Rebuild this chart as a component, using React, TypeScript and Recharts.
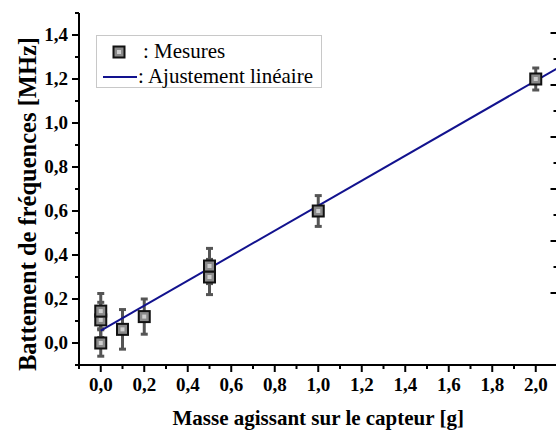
import React from "react";
import {
  ComposedChart,
  Scatter,
  Line,
  XAxis,
  YAxis,
  ErrorBar,
  Legend,
} from "recharts";

// mesures : masse (g), battement (MHz), incertitude (MHz)
const masses = [0, 0, 0, 0.1, 0.2, 0.5, 0.5, 1.0, 2.0];
const beats = [0.0, 0.105, 0.145, 0.062, 0.12, 0.3, 0.35, 0.6, 1.2];
const beatErrors = [0.06, 0.08, 0.08, 0.09, 0.08, 0.08, 0.08, 0.07, 0.05];

// ajustement linéaire (extrémités)
const fitMasses = [0, 2.1];
const fitBeats = [0.056, 1.249];

const xMajorTicks = [0, 0.2, 0.4, 0.6, 0.8, 1.0, 1.2, 1.4, 1.6, 1.8, 2.0];
const xMinorTicks = [-0.1, 0.1, 0.3, 0.5, 0.7, 0.9, 1.1, 1.3, 1.5, 1.7, 1.9, 2.1];
const yMajorTicks = [0, 0.2, 0.4, 0.6, 0.8, 1.0, 1.2, 1.4];
const yMinorTicks = [-0.1, 0.1, 0.3, 0.5, 0.7, 0.9, 1.1, 1.3, 1.5];
const rightMajorTicks = [0, 2, 4, 6, 8, 10];
const rightMinorTicks = [1, 3, 5, 7, 9];

const points = masses.map((x, i) => ({ x, y: beats[i], err: beatErrors[i] }));
const fit = fitMasses.map((x, i) => ({ x, y: fitBeats[i] }));

const sortNum = (a: number, b: number) => a - b;
const isIn = (list: number[], v: number) =>
  list.some((t) => Math.abs(t - v) < 1e-6);
const fmt = (v: number) => v.toFixed(1).replace(".", ",");

const FONT = "'Liberation Serif', 'Times New Roman', serif";
const LINE_COLOR = "#12128e";

function LeftTick({ x, y, payload }: any) {
  const major = isIn(yMajorTicks, payload.value);
  return (
    <g>
      <line x1={x - (major ? 7 : 4)} x2={x} y1={y} y2={y} stroke="#000" strokeWidth={2} />
      {major && (
        <text x={x - 11} y={y + 6} textAnchor="end" fontFamily={FONT} fontWeight="bold" fontSize={19} fill="#000">
          {fmt(payload.value)}
        </text>
      )}
    </g>
  );
}

function BottomTick({ x, y, payload }: any) {
  const major = isIn(xMajorTicks, payload.value);
  return (
    <g>
      <line x1={x} x2={x} y1={y} y2={y + (major ? 7 : 4)} stroke="#000" strokeWidth={2} />
      {major && (
        <text x={x} y={y + 26} textAnchor="middle" fontFamily={FONT} fontWeight="bold" fontSize={19} fill="#000">
          {fmt(payload.value)}
        </text>
      )}
    </g>
  );
}

function TopTick({ x, y }: any) {
  return <line x1={x} x2={x} y1={y} y2={y + 7} stroke="#000" strokeWidth={2} />;
}

function RightTick({ x, y, payload }: any) {
  const major = isIn(rightMajorTicks, payload.value);
  return <line x1={x - (major ? 7 : 4)} x2={x} y1={y} y2={y} stroke="#000" strokeWidth={2} />;
}

function SquareMarker({ cx, cy }: any) {
  if (cx == null || cy == null) return null;
  return (
    <g>
      <rect x={cx - 5.5} y={cy - 5.5} width={11} height={11} fill="#8a8a8a" stroke="#111" strokeWidth={2} />
      <rect x={cx - 2} y={cy - 2} width={4} height={4} fill="#cfcfcf" />
    </g>
  );
}

function LegendBox() {
  return (
    <svg width={226} height={53}>
      <rect x={0.5} y={0.5} width={225} height={52} fill="#fff" stroke="#c8c8c8" />
      <SquareMarker cx={23} cy={17} />
      <text x={47} y={23} fontFamily={FONT} fontSize={21} fill="#000">
        : Mesures
      </text>
      <line x1={7} x2={41} y1={42} y2={42} stroke={LINE_COLOR} strokeWidth={2} />
      <text x={42} y={48} fontFamily={FONT} fontSize={21} fill="#000">
        : Ajustement linéaire
      </text>
    </svg>
  );
}

export default function App() {
  return (
    <div
      style={{
        position: "absolute",
        left: 0,
        top: 0,
        width: 556,
        height: 432,
        overflow: "hidden",
        background: "#fff",
      }}
    >
      <ComposedChart width={600} height={432} margin={{ top: 13, right: 0, bottom: 0, left: 0 }}>
        <XAxis
          xAxisId="bottom"
          dataKey="x"
          type="number"
          domain={[-0.1, 2.1]}
          allowDataOverflow
          ticks={[...xMajorTicks, ...xMinorTicks].sort(sortNum)}
          interval={0}
          tickSize={0}
          tickMargin={0}
          tickLine={false}
          tick={<BottomTick />}
          axisLine={{ stroke: "#000", strokeWidth: 2 }}
          height={67}
          label={{
            content: ({ viewBox }: any) => (
              <text
                x={viewBox.x + viewBox.width / 2}
                y={viewBox.y + 60}
                textAnchor="middle"
                fontFamily={FONT}
                fontWeight="bold"
                fontSize={21}
                fill="#000"
              >
                Masse agissant sur le capteur [g]
              </text>
            ),
          }}
        />
        <XAxis
          xAxisId="top"
          orientation="top"
          dataKey="x"
          type="number"
          domain={[-0.1, 2.1]}
          allowDataOverflow
          ticks={xMajorTicks}
          interval={0}
          tickSize={0}
          tickMargin={0}
          tickLine={false}
          tick={<TopTick />}
          axisLine={{ stroke: "#000", strokeWidth: 2 }}
          height={0}
        />
        <YAxis
          yAxisId="left"
          dataKey="y"
          type="number"
          domain={[-0.1, 1.5]}
          allowDataOverflow
          ticks={[...yMajorTicks, ...yMinorTicks].sort(sortNum)}
          interval={0}
          tickSize={0}
          tickMargin={0}
          tickLine={false}
          tick={<LeftTick />}
          axisLine={{ stroke: "#000", strokeWidth: 2 }}
          width={79}
          label={{
            content: ({ viewBox }: any) => {
              const cx = 36;
              const cy = viewBox.y + viewBox.height / 2 + 15;
              return (
                <text
                  x={cx}
                  y={cy}
                  transform={`rotate(-90 ${cx} ${cy})`}
                  textAnchor="middle"
                  fontFamily={FONT}
                  fontWeight="bold"
                  fontSize={24.5}
                  fill="#000"
                >
                  Battement de fréquences [MHz]
                </text>
              );
            },
          }}
        />
        <YAxis
          yAxisId="right"
          orientation="right"
          type="number"
          domain={[-2.77, 10.77]}
          allowDataOverflow
          ticks={[...rightMajorTicks, ...rightMinorTicks].sort(sortNum)}
          interval={0}
          tickSize={0}
          tickMargin={0}
          tickLine={false}
          tick={<RightTick />}
          axisLine={{ stroke: "#000", strokeWidth: 2 }}
          width={42.5}
        />
        <Legend
          layout="horizontal"
          verticalAlign="middle"
          align="center"
          wrapperStyle={{ left: 96, top: 35, width: 226, height: 53 }}
          content={<LegendBox />}
        />
        <Scatter
          name="Mesures"
          data={points}
          dataKey="y"
          xAxisId="bottom"
          yAxisId="left"
          shape={<SquareMarker />}
          isAnimationActive={false}
        >
          <ErrorBar dataKey="err" direction="y" width={3.5} strokeWidth={3} stroke="#555" />
        </Scatter>
        <Line
          name="Ajustement linéaire"
          data={fit}
          dataKey="y"
          xAxisId="bottom"
          yAxisId="left"
          type="linear"
          stroke={LINE_COLOR}
          strokeWidth={2}
          dot={false}
          activeDot={false}
          isAnimationActive={false}
        />
      </ComposedChart>
    </div>
  );
}
